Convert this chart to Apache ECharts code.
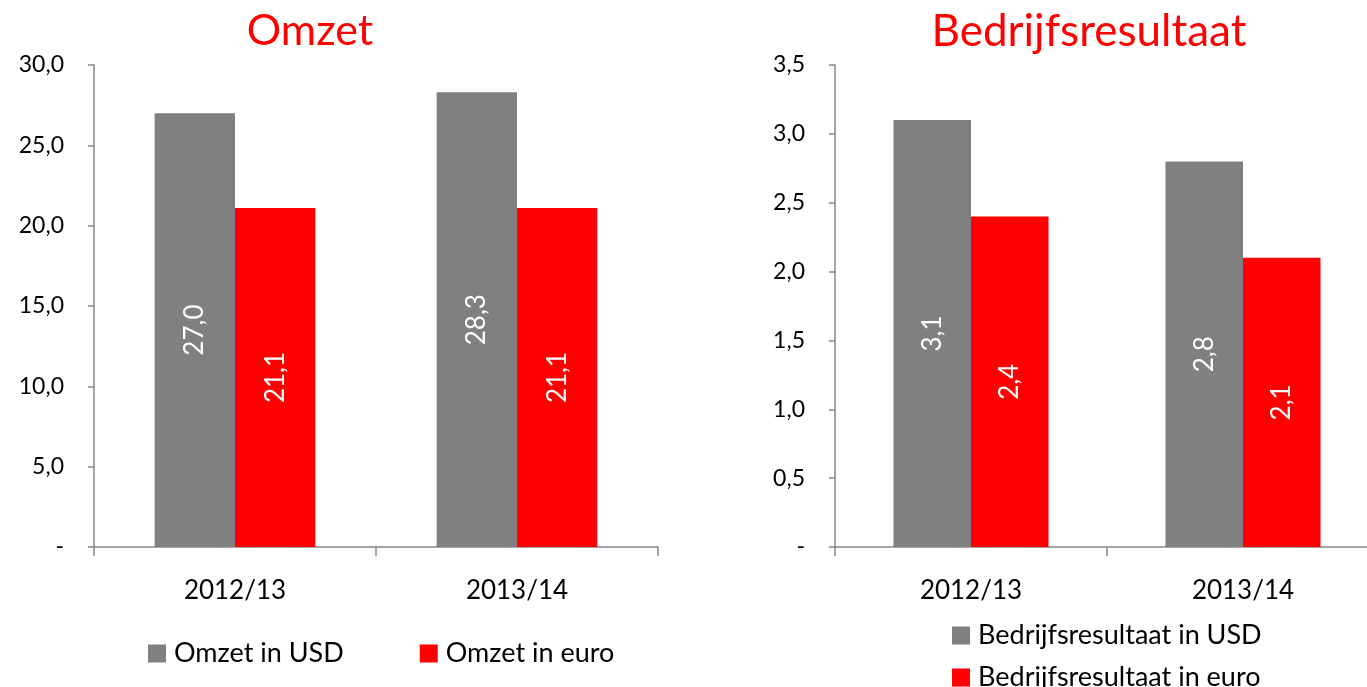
<!DOCTYPE html>
<html>
<head>
<meta charset="utf-8">
<title>Omzet en Bedrijfsresultaat</title>
<script src="https://cdn.jsdelivr.net/npm/echarts@6/dist/echarts.min.js"></script>
<style>
  html, body { margin: 0; padding: 0; background: #ffffff; overflow: hidden; }
  /* a bit wider than the window: the right chart runs off the edge like the original */
  #chart { width: 1385px; height: 687px; }
</style>
</head>
<body>
<div id="chart"></div>
<script>
  // data
  const categories = ['2012/13', '2013/14'];
  const omzetUsd = [27.0, 28.3];
  const omzetEuro = [21.1, 21.1];
  const resultaatUsd = [3.1, 2.8];
  const resultaatEuro = [2.4, 2.1];

  const FONT = 'Lato';
  const GRAY = '#808080';
  const RED = '#ff0000';
  const AXIS = '#868686';

  // 1,5 style numbers, 0 shown as '-'
  const fmt = function (v) {
    if (v === 0) return '-';
    return v.toFixed(1).replace('.', ',');
  };

  const barLabel = {
    show: true,
    position: 'inside',
    rotate: 90,
    color: '#ffffff',
    fontFamily: FONT,
    fontSize: 26,
    formatter: function (p) { return fmt(p.value); }
  };

  const xAxisBase = {
    type: 'category',
    data: categories,
    axisLine: { lineStyle: { color: AXIS, width: 1.5 } },
    axisTick: { show: true, length: 9, lineStyle: { color: AXIS, width: 1.5 } },
    axisLabel: { color: '#000', fontFamily: FONT, fontSize: 26, margin: 31 }
  };

  const yAxisBase = {
    type: 'value',
    min: 0,
    axisLine: { show: true, lineStyle: { color: AXIS, width: 1.5 } },
    axisTick: { show: true, inside: false, length: 6, lineStyle: { color: AXIS, width: 1.5 } },
    splitLine: { show: false },
    axisLabel: { color: '#000', fontFamily: FONT, fontSize: 23, margin: 30, formatter: fmt }
  };

  const legendBase = {
    orient: 'horizontal',
    itemWidth: 18, itemHeight: 18,
    icon: 'rect',
    textStyle: { color: '#000', fontFamily: FONT, fontSize: 27, padding: [0, 0, 0, 3] }
  };

  const chart = echarts.init(document.getElementById('chart'));
  chart.setOption({
    backgroundColor: '#ffffff',
    animation: false,
    title: [
      { text: 'Omzet', left: 305, top: 5, textAlign: 'center',
        textStyle: { color: RED, fontFamily: FONT, fontSize: 43, fontWeight: 'normal' } },
      { text: 'Bedrijfsresultaat', left: 1084, top: 5, textAlign: 'center',
        textStyle: { color: RED, fontFamily: FONT, fontSize: 44, fontWeight: 'normal' } }
    ],
    legend: [
      Object.assign({}, legendBase, {
        data: ['Omzet in USD', 'Omzet in euro'],
        left: 143, top: 635, itemGap: 76
      }),
      Object.assign({}, legendBase, {
        data: ['Bedrijfsresultaat in USD'],
        left: 947, top: 617
      }),
      Object.assign({}, legendBase, {
        data: ['Bedrijfsresultaat in euro'],
        left: 947, top: 659
      })
    ],
    grid: [
      { left: 94, top: 65, width: 564, height: 482 },
      { left: 835, top: 65, width: 544, height: 482 }
    ],
    xAxis: [
      Object.assign({ gridIndex: 0 }, xAxisBase),
      Object.assign({ gridIndex: 1 }, xAxisBase)
    ],
    yAxis: [
      Object.assign({}, yAxisBase, { gridIndex: 0, max: 30, interval: 5 }),
      Object.assign({}, yAxisBase, { gridIndex: 1, max: 3.5, interval: 0.5 })
    ],
    series: [
      { name: 'Omzet in USD', type: 'bar', xAxisIndex: 0, yAxisIndex: 0,
        data: omzetUsd, itemStyle: { color: GRAY },
        barGap: '0%', barCategoryGap: '43%', label: barLabel },
      { name: 'Omzet in euro', type: 'bar', xAxisIndex: 0, yAxisIndex: 0,
        data: omzetEuro, itemStyle: { color: RED },
        barGap: '0%', barCategoryGap: '43%', label: barLabel },
      { name: 'Bedrijfsresultaat in USD', type: 'bar', xAxisIndex: 1, yAxisIndex: 1,
        data: resultaatUsd, itemStyle: { color: GRAY },
        barGap: '0%', barCategoryGap: '43%', label: barLabel },
      { name: 'Bedrijfsresultaat in euro', type: 'bar', xAxisIndex: 1, yAxisIndex: 1,
        data: resultaatEuro, itemStyle: { color: RED },
        barGap: '0%', barCategoryGap: '43%', label: barLabel }
    ]
  });
</script>
</body>
</html>
